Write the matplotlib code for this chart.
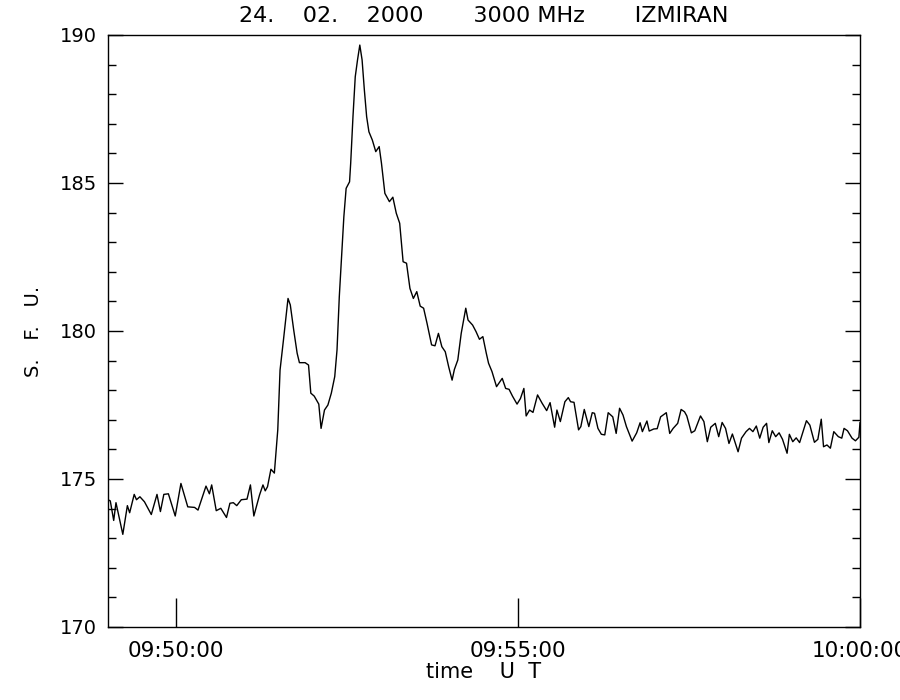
import numpy as np
import pandas as pd
import matplotlib
matplotlib.use('Agg')
import matplotlib.pyplot as plt
import matplotlib.dates as mdates

# 24.02.2000, 3000 MHz, IZMIRAN -- seconds after 09:49:00 UT and flux (s.f.u.)
sec = [0, 2, 5, 7, 13, 17, 19, 23, 25, 28, 32, 38, 43, 46, 49, 53, 59, 64, 70, 76,
       79, 86, 89, 91, 95, 99, 104, 107, 110, 113, 117, 122, 125, 128, 133, 136, 138, 140,
       143, 146, 149, 151, 154, 158, 160, 163, 166, 168, 173, 176, 178, 181, 185, 187,
       190, 193, 196, 199, 201, 203, 205, 207, 209, 212, 213, 215, 217, 219, 221, 223,
       225, 227, 229, 232, 235, 238, 240, 243, 247, 250, 253, 256, 259, 262, 265, 268,
       271, 274, 277, 280, 284, 287, 290, 293, 296, 299, 302, 304, 307, 310, 314, 316,
       320, 323, 326, 329, 332, 334, 337, 341, 346, 349, 352, 355, 359, 362, 365, 367,
       370, 373, 377, 381, 385, 388, 392, 394, 397, 401, 404, 406, 409, 413, 415, 418,
       422, 425, 427, 430, 433, 436, 439, 443, 446, 449, 452, 455, 460, 464, 467, 469,
       473, 475, 479, 482, 485, 490, 493, 496, 500, 503, 506, 508, 512, 515, 520, 523,
       526, 529, 533, 536, 539, 542, 545, 548, 553, 556, 560, 563, 566, 569, 572, 575,
       578, 580, 583, 586, 589, 592, 596, 598, 601, 604, 607, 610, 613, 616, 620, 623,
       626, 628, 631, 634, 637, 641, 644, 646, 649, 653, 656, 659, 660]
flux = [174.3, 174.26, 173.6, 174.2, 173.13, 174.1, 173.86, 174.48, 174.3, 174.4,
        174.23, 173.8, 174.48, 173.9, 174.48, 174.5, 173.75, 174.85, 174.06, 174.04,
        173.95, 174.76, 174.5, 174.8, 173.93, 174.01, 173.7, 174.18, 174.2, 174.1,
        174.3, 174.32, 174.8, 173.75, 174.46, 174.8, 174.6, 174.74,
        175.33, 175.2, 176.66, 178.68, 179.7, 181.1, 180.88, 180.03, 179.25, 178.93,
        178.93, 178.85, 177.9, 177.8, 177.53, 176.71,
        177.33, 177.5, 177.9, 178.46, 179.36, 181.16, 182.51, 183.86, 184.82, 185.04,
        185.67, 187.24, 188.59, 189.16, 189.66, 189.16,
        188.14, 187.24, 186.73, 186.45, 186.06, 186.23, 185.67, 184.65, 184.37, 184.52,
        183.98, 183.64, 182.34, 182.29, 181.44, 181.1,
        181.33, 180.84, 180.77, 180.26, 179.53, 179.5, 179.92, 179.47, 179.3, 178.79,
        178.34, 178.7, 179.02, 179.92, 180.77, 180.37,
        180.2, 179.98, 179.72, 179.81, 179.25, 178.91, 178.63, 178.12, 178.4, 178.06,
        178.03, 177.8, 177.53, 177.72, 178.06, 177.13,
        177.33, 177.25, 177.84, 177.56, 177.31, 177.58, 176.75, 177.33, 176.94, 177.61,
        177.75, 177.61, 177.59, 176.66, 176.77, 177.35,
        176.77, 177.24, 177.22, 176.71, 176.51, 176.49, 177.24, 177.1, 176.54, 177.39,
        177.16, 176.77, 176.28, 176.56, 176.9, 176.6,
        176.96, 176.62, 176.69, 176.7, 177.1, 177.24, 176.54, 176.71, 176.88, 177.35,
        177.27, 177.13, 176.56, 176.63, 177.13, 176.94,
        176.26, 176.75, 176.88, 176.43, 176.91, 176.71, 176.2, 176.52, 175.92, 176.38,
        176.6, 176.71, 176.6, 176.79, 176.38, 176.75,
        176.88, 176.23, 176.63, 176.43, 176.56, 176.34, 175.87, 176.51, 176.26, 176.39,
        176.23, 176.6, 176.97, 176.82, 176.24, 176.34,
        177.02, 176.09, 176.15, 176.04, 176.6, 176.43, 176.38, 176.71, 176.63, 176.38,
        176.29, 176.41, 176.9]

t0 = pd.Timestamp('2000-02-24 09:49:00')
t = t0 + pd.to_timedelta(sec, unit='s')

fig = plt.figure(figsize=(9, 7), dpi=100)
ax = fig.add_axes([108 / 900, 1 - 627 / 700, 752 / 900, 592 / 700])

ax.plot(t, flux, color='black', linewidth=1.0)

ax.set_xlim(t0, pd.Timestamp('2000-02-24 10:00:00'))
ax.set_ylim(170, 190)

# x ticks: only major, bottom, inward
ax.xaxis.set_major_locator(mdates.MinuteLocator(byminute=[50, 55, 0]))
ax.xaxis.set_major_formatter(mdates.DateFormatter('%H:%M:%S'))
ax.tick_params(axis='x', which='major', direction='in', length=21, width=1,
               top=False, bottom=True, labelsize=15.5, pad=10)

# y ticks on both sides, major every 5, minor every 1
ax.set_yticks(np.arange(170, 191, 5))
ax.set_yticks(np.arange(170, 191, 1), minor=True)
ax.tick_params(axis='y', which='major', direction='in', length=11, width=1,
               left=True, right=True, labelsize=14, pad=8)
ax.tick_params(axis='y', which='minor', direction='in', length=6, width=1,
               left=True, right=True)

for s in ax.spines.values():
    s.set_linewidth(1)

ax.set_title('24.    02.    2000       3000 MHz       IZMIRAN', fontsize=16, pad=9)
ax.set_xlabel('time    U  T', fontsize=15, labelpad=1)
ax.set_ylabel('S.   F.   U.', fontsize=14, labelpad=12)

for lab in ax.get_xticklabels():
    lab.set_clip_on(False)

fig.savefig('out.png', dpi=100)
